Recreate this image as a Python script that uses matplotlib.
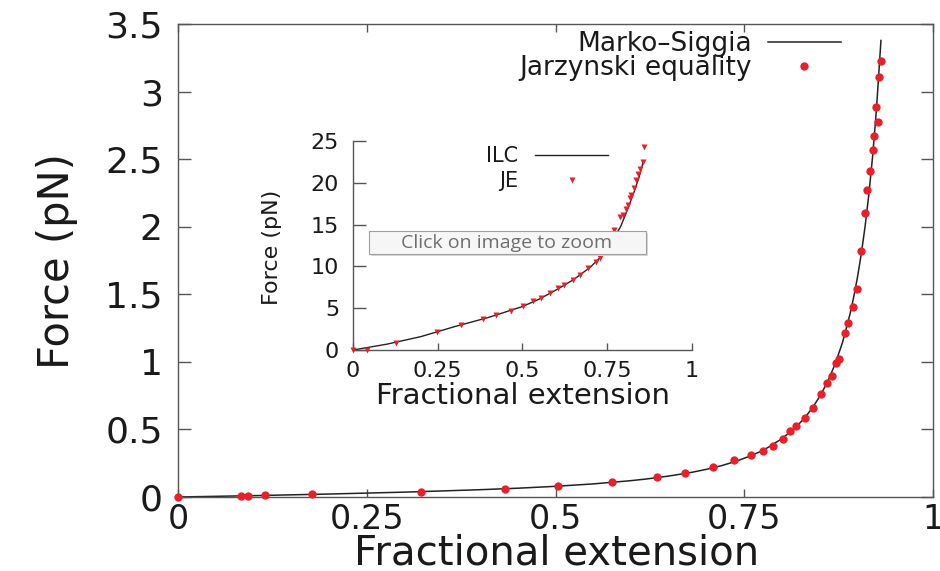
import matplotlib
matplotlib.use("Agg")
import matplotlib.pyplot as plt
from matplotlib.patches import Rectangle

# main panel: Jarzynski equality points
je_ext = [0.0, 0.084, 0.093, 0.115, 0.177, 0.322, 0.433, 0.503, 0.575, 0.635,
          0.672, 0.709, 0.737, 0.759, 0.775, 0.788, 0.801, 0.810, 0.819, 0.830,
          0.841, 0.852, 0.859, 0.866, 0.871, 0.876, 0.883, 0.888, 0.894, 0.899,
          0.904, 0.910, 0.913, 0.916, 0.920, 0.922, 0.927, 0.925, 0.929, 0.931]
je_force = [0.0, 0.008, 0.009, 0.012, 0.019, 0.039, 0.061, 0.084, 0.109, 0.150,
            0.180, 0.220, 0.276, 0.308, 0.343, 0.380, 0.427, 0.488, 0.528, 0.582,
            0.661, 0.760, 0.846, 0.898, 0.989, 1.019, 1.214, 1.290, 1.408, 1.537,
            1.823, 2.099, 2.270, 2.415, 2.565, 2.669, 2.777, 2.888, 3.105, 3.226]

# main panel: Marko-Siggia curve
ms_ext = [0.0, 0.1, 0.2, 0.3, 0.4, 0.45, 0.5, 0.55, 0.6, 0.62,
          0.65, 0.68, 0.7, 0.72, 0.74, 0.76, 0.77, 0.78, 0.8, 0.82,
          0.83, 0.84, 0.85, 0.86, 0.87, 0.88, 0.89, 0.895, 0.9, 0.905,
          0.91, 0.915, 0.92, 0.925, 0.931]
ms_force = [0.0, 0.010, 0.022, 0.036, 0.054, 0.065, 0.079, 0.097, 0.121, 0.133,
            0.155, 0.182, 0.205, 0.232, 0.266, 0.308, 0.333, 0.362, 0.432, 0.526,
            0.586, 0.658, 0.744, 0.849, 0.979, 1.142, 1.353, 1.481, 1.629, 1.801,
            2.002, 2.240, 2.523, 2.865, 3.378]

# inset: ILC curve and JE points
ilc_ext = [0.0, 0.1, 0.2, 0.3, 0.4, 0.5, 0.55, 0.6, 0.65, 0.7, 0.73, 0.76,
           0.79, 0.81, 0.83, 0.845, 0.857]
ilc_force = [0.0, 0.7, 1.6, 2.8, 3.9, 5.2, 6.1, 7.2, 8.4, 9.9, 11.1, 12.7,
             14.8, 16.8, 19.0, 20.8, 22.6]
je2_ext = [0.0, 0.04, 0.127, 0.248, 0.32, 0.384, 0.423, 0.465, 0.502, 0.531,
           0.556, 0.58, 0.605, 0.624, 0.649, 0.669, 0.693, 0.718, 0.728, 0.77,
           0.787, 0.797, 0.806, 0.811, 0.816, 0.821, 0.829, 0.836, 0.841, 0.848,
           0.855, 0.860]
je2_force = [0.0, 0.05, 0.88, 2.1, 3.0, 3.67, 4.19, 4.7, 5.26, 5.9,
             6.26, 6.78, 7.38, 7.78, 8.37, 8.97, 9.77, 10.57, 10.96, 14.35,
             15.87, 16.2, 16.87, 17.34, 18.14, 18.54, 19.34, 20.33, 21.05, 21.6,
             22.5, 24.3]

x_ticks = [0, 0.25, 0.5, 0.75, 1]
x_labels = ['0', '0.25', '0.5', '0.75', '1']
y_ticks = [0, 0.5, 1, 1.5, 2, 2.5, 3, 3.5]
y_labels = ['0', '0.5', '1', '1.5', '2', '2.5', '3', '3.5']
in_y_ticks = [0, 5, 10, 15, 20, 25]
in_y_labels = ['0', '5', '10', '15', '20', '25']

red = '#e8202a'
frame = '#555555'
ink = '#1a1a1a'

fig = plt.figure(figsize=(9.4, 5.71), dpi=100)

ax = fig.add_axes([0.1894, 0.1296, 0.8032, 0.8284])
ax.plot(ms_ext, ms_force, color='#222222', lw=1.1, label='Marko\u2013Siggia', zorder=2)
ax.plot(je_ext, je_force, 'o', color=red, ms=6, mec='none',
        label='Jarzynski equality', zorder=3, clip_on=False)
ax.set_xlim(0, 1)
ax.set_ylim(0, 3.5)
ax.set_xticks(x_ticks)
ax.set_xticklabels(x_labels)
ax.set_yticks(y_ticks)
ax.set_yticklabels(y_labels)
for s in ax.spines.values():
    s.set_color(frame)
    s.set_linewidth(1.0)
ax.tick_params(direction='in', top=True, right=True, color=frame, width=1.0,
               labelcolor=ink)
ax.tick_params(axis='x', length=6, pad=4, labelsize=24)
ax.tick_params(axis='y', length=9, pad=11, labelsize=26)
ax.set_xlabel('Fractional extension', fontsize=29, color=ink)
ax.set_ylabel('Force (pN)', fontsize=30, color=ink)
ax.xaxis.set_label_coords(0.501, -0.078)
ax.yaxis.set_label_coords(-0.132, 0.499)
ax.legend(loc='upper right', bbox_to_anchor=(841 / 940, 1 - 31 / 571),
          bbox_transform=fig.transFigure, frameon=False, markerfirst=False,
          fontsize=19, handlelength=2.77, handletextpad=0.6, borderpad=0,
          borderaxespad=0, labelspacing=-0.08, numpoints=1, labelcolor=ink)

axin = fig.add_axes([0.3755, 0.3870, 0.3606, 0.3660])
axin.set_facecolor('none')
axin.plot(ilc_ext, ilc_force, color='#222222', lw=1.0, label='ILC', zorder=2)
axin.plot(je2_ext, je2_force, 'v', color=red, ms=4.5, mec='none', label='JE',
          zorder=3, clip_on=False)
axin.set_xlim(0, 1)
axin.set_ylim(0, 25)
axin.set_xticks(x_ticks)
axin.set_xticklabels(x_labels)
axin.set_yticks(in_y_ticks)
axin.set_yticklabels(in_y_labels)
axin.spines['top'].set_visible(False)
axin.spines['right'].set_visible(False)
for k in ['left', 'bottom']:
    axin.spines[k].set_color(frame)
    axin.spines[k].set_linewidth(1.0)
axin.tick_params(direction='in', color=frame, width=1.0, labelcolor=ink, labelsize=16)
axin.tick_params(axis='x', length=5, pad=8)
axin.tick_params(axis='y', length=9, pad=10)
axin.set_xlabel('Fractional extension', fontsize=21, color=ink)
axin.set_ylabel('Force (pN)', fontsize=16, color=ink)
axin.xaxis.set_label_coords(0.501, -0.155)
axin.yaxis.set_label_coords(-0.209, 0.493)
axin.legend(loc='upper right', bbox_to_anchor=(608 / 940, 1 - 146 / 571),
            bbox_transform=fig.transFigure, frameon=False, markerfirst=False,
            fontsize=15, handlelength=3.5, handletextpad=0.8, borderpad=0,
            borderaxespad=0, labelspacing=0.24, numpoints=1, labelcolor=ink)

# browser tooltip overlaid on the image
shadow = Rectangle((371 / 940, 1 - 256 / 571), 277 / 940, 23 / 571,
                   transform=fig.transFigure, facecolor='#d8d8d8',
                   edgecolor='none', zorder=9)
box = Rectangle((369 / 940, 1 - 254 / 571), 277 / 940, 23 / 571,
                transform=fig.transFigure, facecolor='#f6f6f6',
                edgecolor='#a0a0a0', lw=0.8, zorder=10)
fig.add_artist(shadow)
fig.add_artist(box)
fig.text(507 / 940, 1 - 243 / 571, 'Click on image to zoom', fontsize=14,
         family='Open Sans', color='#6e6e6e', ha='center', va='center', zorder=11)

fig.savefig('out.png', dpi=100)
